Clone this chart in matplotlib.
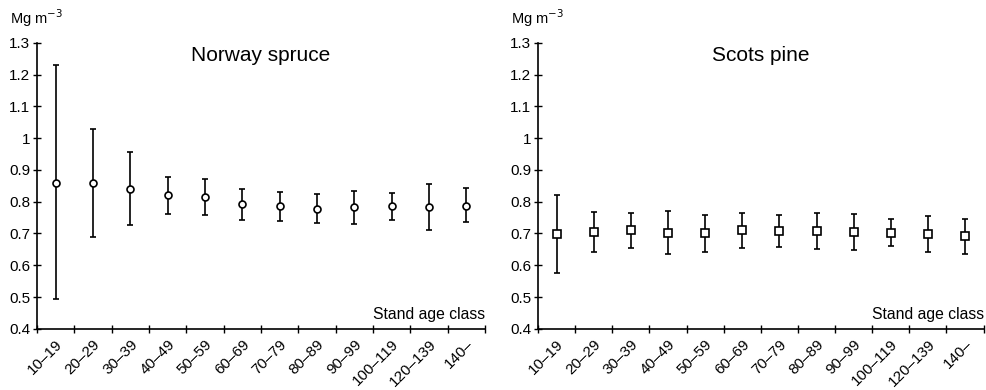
import numpy as np
import matplotlib.pyplot as plt

plt.rcParams['font.family'] = ['Liberation Sans', 'DejaVu Sans']

age_classes = ['10–19', '20–29', '30–39', '40–49', '50–59', '60–69', '70–79',
               '80–89', '90–99', '100–119', '120–139', '140–']

# Norway spruce: mean, upper and lower ends of the error bars
spruce_mean = [0.860, 0.858, 0.840, 0.820, 0.815, 0.792, 0.785, 0.778, 0.782, 0.785, 0.782, 0.787]
spruce_hi = [1.230, 1.030, 0.955, 0.877, 0.873, 0.840, 0.831, 0.823, 0.835, 0.826, 0.855, 0.843]
spruce_lo = [0.495, 0.690, 0.727, 0.760, 0.758, 0.742, 0.739, 0.732, 0.730, 0.741, 0.710, 0.735]

# Scots pine
pine_mean = [0.697, 0.706, 0.711, 0.702, 0.702, 0.711, 0.709, 0.709, 0.704, 0.703, 0.699, 0.693]
pine_hi = [0.820, 0.768, 0.766, 0.771, 0.759, 0.763, 0.759, 0.763, 0.761, 0.746, 0.756, 0.746]
pine_lo = [0.575, 0.641, 0.655, 0.634, 0.643, 0.655, 0.658, 0.650, 0.648, 0.660, 0.641, 0.634]

fig = plt.figure(figsize=(9.86, 3.9), dpi=100)

panels = [
    ([0.0375, 0.157, 0.4545, 0.733], 'Norway spruce', spruce_mean, spruce_hi, spruce_lo, 'o'),
    ([0.5456, 0.157, 0.4520, 0.733], 'Scots pine', pine_mean, pine_hi, pine_lo, 's'),
]

for rect, title, mean, hi, lo, marker in panels:
    ax = fig.add_axes(rect)
    mean = np.array(mean)
    x = np.arange(len(age_classes)) + 0.5
    yerr = [mean - np.array(lo), np.array(hi) - mean]
    ax.errorbar(x, mean, yerr=yerr, fmt=marker, color='black', mfc='white',
                mec='black', ms=5.0 if marker == 'o' else 5.6, mew=1.2,
                elinewidth=1.2, capsize=2, capthick=1.2, zorder=3)

    ax.set_xlim(0, len(age_classes))
    ax.set_ylim(0.4, 1.3)
    ax.set_yticks(np.arange(0.4, 1.31, 0.1))
    ax.set_yticklabels(['0.4', '0.5', '0.6', '0.7', '0.8', '0.9', '1', '1.1', '1.2', '1.3'])
    ax.set_xticks(np.arange(len(age_classes) + 1))
    ax.set_xticklabels([])
    ax.set_xticks(x, minor=True)
    ax.set_xticklabels(age_classes, minor=True, rotation=45, ha='right',
                       rotation_mode='anchor')
    ax.tick_params(axis='x', which='minor', length=0, pad=6, labelsize=11)
    ax.tick_params(axis='both', which='major', direction='inout', length=6,
                   width=1, labelsize=11)
    ax.tick_params(axis='y', pad=2)

    for side in ['top', 'right']:
        ax.spines[side].set_visible(False)
    for side in ['left', 'bottom']:
        ax.spines[side].set_linewidth(1.2)

    ax.text(0.5, 0.955, title, transform=ax.transAxes, ha='center', va='center',
            fontsize=15)
    ax.text(1.0, 0.05, 'Stand age class', transform=ax.transAxes, ha='right',
            va='center', fontsize=11.3)
    ax.text(-0.06, 1.085, 'Mg m$^{-3}$', transform=ax.transAxes, ha='left',
            va='center', fontsize=10.5)

fig.savefig('out.png', dpi=100)
